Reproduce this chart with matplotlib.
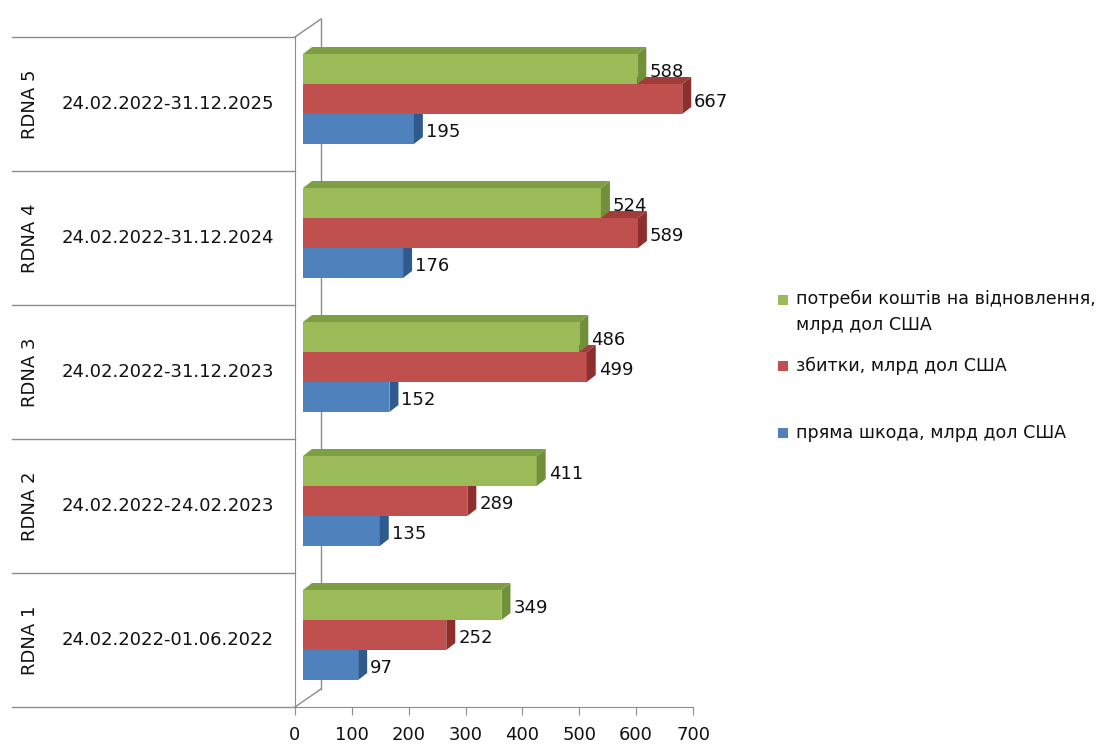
import matplotlib
matplotlib.use('Agg')
import matplotlib.pyplot as plt
from matplotlib.patches import Polygon, Rectangle
import matplotlib.transforms as mtransforms

#%% data
rdna = ['RDNA 1', 'RDNA 2', 'RDNA 3', 'RDNA 4', 'RDNA 5']
periods = ['24.02.2022-01.06.2022', '24.02.2022-24.02.2023', '24.02.2022-31.12.2023',
           '24.02.2022-31.12.2024', '24.02.2022-31.12.2025']
direct_damage = [97, 135, 152, 176, 195]
losses = [252, 289, 499, 589, 667]
recovery_needs = [349, 411, 486, 524, 588]
series_names = ['пряма шкода, млрд дол США', 'збитки, млрд дол США',
                'потреби коштів на відновлення,\nмлрд дол США']

#%% layout (pixels of a 1101x745 picture)
W, H = 1101, 745
x0_px, x1_px = 295, 693      # 0 and 700 on the value axis
ytop_px, ybot_px = 37, 707   # top / bottom of category bands
xscale = (x1_px - x0_px) / 700.0
yscale = (ybot_px - ytop_px) / 5.0

plt.rcParams['font.family'] = ['DejaVu Sans']
fs = 13
txtc = '#111111'
linec = '#8c8c8c'

fig = plt.figure(figsize=(W / 100, H / 100), dpi=100)
ax = fig.add_axes([x0_px / W, 1 - ybot_px / H, (x1_px - x0_px) / W, (ybot_px - ytop_px) / H])
ax.set_xlim(0, 700)
ax.set_ylim(-0.5, 4.5)

def px_x(p):
    return p / xscale

def px_y(p):
    return p / yscale

# 3D back wall lines
wall_dx, wall_dy = px_x(26), px_y(18)
ax.plot([0, wall_dx], [-0.5, -0.5 + wall_dy], color=linec, lw=1, clip_on=False, zorder=1)
ax.plot([0, wall_dx], [4.5, 4.5 + wall_dy], color=linec, lw=1, clip_on=False, zorder=1)
ax.plot([wall_dx, wall_dx], [-0.5 + wall_dy, 4.5 + wall_dy], color=linec, lw=1, clip_on=False, zorder=1)

# bars
bar_off = px_x(8)
bar_h = px_y(30)
dep_x, dep_y = px_x(9), px_y(7)
colors = [('#4F81BD', '#2E5A8E', '#3A6AA3'),
          ('#C0504D', '#8E2F2D', '#A23C39'),
          ('#9BBB59', '#71903A', '#7E9E44')]
offsets = [px_y(-25), px_y(5), px_y(35)]   # bar centre relative to category centre
series = [direct_damage, losses, recovery_needs]

for k in range(3):
    front, side, top = colors[k]
    ys = [i + offsets[k] for i in range(len(rdna))]
    ax.barh(ys, series[k], height=bar_h, left=bar_off, color=front, zorder=3 + k * 3)
    for i, v in enumerate(series[k]):
        xl, xr = bar_off, bar_off + v
        yb, yt = ys[i] - bar_h / 2, ys[i] + bar_h / 2
        ax.add_patch(Polygon([(xr, yb), (xr + dep_x, yb + dep_y), (xr + dep_x, yt + dep_y), (xr, yt)],
                             closed=True, facecolor=side, edgecolor='none', zorder=4 + k * 3, clip_on=False))
        ax.add_patch(Polygon([(xl, yt), (xl + dep_x, yt + dep_y), (xr + dep_x, yt + dep_y), (xr, yt)],
                             closed=True, facecolor=top, edgecolor='none', zorder=4 + k * 3, clip_on=False))
        ax.text(xr + px_x(12), ys[i] - px_y(3), str(v), ha='left', va='center',
                fontsize=fs, color=txtc, zorder=20, clip_on=False)

# axes styling
for s in ['top', 'right']:
    ax.spines[s].set_visible(False)
ax.spines['left'].set_color(linec)
ax.spines['bottom'].set_color(linec)
ax.set_yticks([])
ax.set_xticks(range(0, 800, 100))
ax.tick_params(axis='x', direction='out', length=6, color=linec, pad=8, labelsize=fs, labelcolor=txtc)
ax.patch.set_alpha(0)

# two-level category labels on the left
blend = mtransforms.blended_transform_factory(fig.transFigure, ax.transData)
for b in range(6):
    yb = -0.5 + b
    ax.plot([12 / W, x0_px / W], [yb, yb], color=linec, lw=1, transform=blend, clip_on=False)
for i in range(len(rdna)):
    ax.text(30 / W, i, rdna[i], rotation=90, ha='center', va='center', fontsize=fs,
            color=txtc, transform=blend)
    ax.text(168 / W, i, periods[i], ha='center', va='center', fontsize=fs,
            color=txtc, transform=blend)

# legend
leg_y = [433, 366, 312]
for k in range(3):
    y = leg_y[k]
    if k == 2:
        sq_y = 300
    else:
        sq_y = y
    fig.add_artist(Rectangle((778 / W, 1 - (sq_y + 5) / H), 10 / W, 10 / H,
                             facecolor=colors[k][0], edgecolor='none', transform=fig.transFigure))
    fig.text(796 / W, 1 - y / H, series_names[k], ha='left', va='center',
             fontsize=12.6, color=txtc, linespacing=1.55)

plt.savefig('out.png', dpi=100)
